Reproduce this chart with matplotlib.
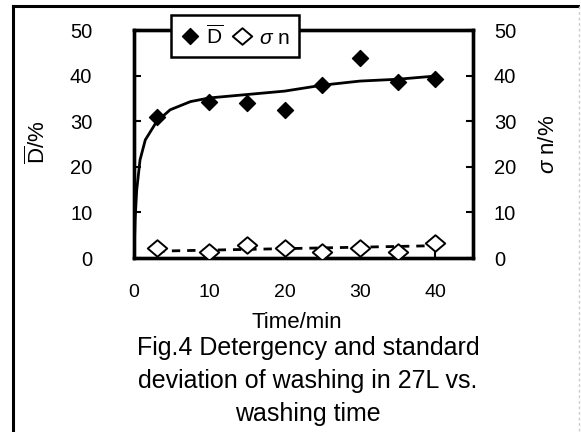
import matplotlib
matplotlib.use("Agg")
import matplotlib.pyplot as plt
from matplotlib.lines import Line2D
from matplotlib.path import Path

plt.rcParams['font.family'] = ['Liberation Sans', 'DejaVu Sans']
plt.rcParams['mathtext.fontset'] = 'custom'
plt.rcParams['mathtext.rm'] = 'Liberation Sans'
plt.rcParams['mathtext.it'] = 'Liberation Sans:italic'

# measured points
time_min = [3, 10, 15, 20, 25, 30, 35, 40]
detergency = [30.9, 34.2, 34.1, 32.5, 38.0, 43.9, 38.5, 39.2]
sigma_n = [2.1, 1.4, 2.8, 2.1, 1.4, 2.1, 1.4, 3.2]

# trend lines
fit_time = [0, 0.15, 0.36, 0.8, 1.5, 3, 4.8, 7.5, 10, 14, 20, 25, 30, 35, 40]
fit_det = [0, 8.5, 14.9, 21.5, 25.9, 29.9, 32.5, 34.3, 35.1, 35.7, 36.6, 37.9, 38.8, 39.2, 39.9]
sigma_fit_time = [3, 40]
sigma_fit = [1.5, 2.7]

x_ticks = [0, 10, 20, 30, 40]
y_ticks = [0, 10, 20, 30, 40, 50]

W, H = 581, 432


def fx(px):
    return px / W


def fy(py):
    return 1 - py / H


diamond = Path([(-1, 0), (0, 1), (1, 0), (0, -1), (-1, 0)],
               [Path.MOVETO, Path.LINETO, Path.LINETO, Path.LINETO, Path.CLOSEPOLY])
flat_diamond = Path([(-1, 0), (0, 0.85), (1, 0), (0, -0.85), (-1, 0)],
                    [Path.MOVETO, Path.LINETO, Path.LINETO, Path.LINETO, Path.CLOSEPOLY])

fig = plt.figure(figsize=(5.81, 4.32), dpi=100)
fig.patch.set_facecolor('white')
ax = fig.add_axes([fx(134), fy(258), fx(473) - fx(134), fy(30) - fy(258)])
ax2 = ax.twinx()

ax.plot(fit_time, fit_det, color='black', lw=2.0, zorder=3)
ax.plot(time_min, detergency, ls='none', marker=diamond, ms=11.5,
        mfc='black', mec='black', zorder=4)
ax2.plot(sigma_fit_time, sigma_fit, color='black', lw=2.0,
         ls=(0, (3, 2.5)), zorder=3)
ax2.plot(time_min, sigma_n, ls='none', marker=flat_diamond, ms=14,
         mfc='white', mec='black', mew=1.4, zorder=4)

ax.set_xlim(0, 45)
ax.set_ylim(0, 50)
ax2.set_ylim(0, 50)
ax.set_xticks(x_ticks)
ax.set_yticks(y_ticks)
ax2.set_yticks(y_ticks)

for a in (ax, ax2):
    for s in a.spines.values():
        s.set_linewidth(2.4)
ax.tick_params(axis='x', direction='in', length=5, width=1.5,
               labelsize=14, pad=19)
ax.tick_params(axis='y', direction='in', length=5, width=1.5,
               labelsize=14.5, pad=30)
ax2.tick_params(axis='y', direction='in', length=5, width=1.5,
                labelsize=14.5, pad=15)

fig.text(fx(297), fy(322), 'Time/min', ha='center', va='center', fontsize=16)
fig.text(fx(38), fy(142), '$\\overline{\\mathrm{D}}$/%', rotation=90,
         ha='center', va='center', fontsize=16)
fig.text(fx(549), fy(144), '$\\sigma$ n/%', rotation=90,
         ha='center', va='center', fontsize=16)

caption = ['Fig.4 Detergency and standard',
           'deviation of washing in 27L vs.',
           'washing time']
for line, py in zip(caption, [348, 381, 414]):
    fig.text(fx(308), fy(py), line, ha='center', va='center', fontsize=18)

handles = [Line2D([], [], ls='none', marker=diamond, ms=11.5, mfc='black', mec='black'),
           Line2D([], [], ls='none', marker=flat_diamond, ms=14, mfc='white',
                  mec='black', mew=1.4)]
leg = fig.legend(handles, ['$\\overline{\\mathrm{D}}$', '$\\sigma$ n'], ncol=2,
                 loc='center', bbox_to_anchor=(fx(235), fy(36)),
                 fontsize=15, frameon=True, fancybox=False, framealpha=1,
                 edgecolor='black', handlelength=0.9, handletextpad=0.35,
                 columnspacing=0.45, borderpad=0.45, borderaxespad=0)
leg.get_frame().set_linewidth(1.8)

# outer frame of the figure panel
fig.add_artist(Line2D([fx(13), fx(13)], [fy(6), 0], color='black', lw=2.2))
fig.add_artist(Line2D([fx(13), fx(578)], [fy(6), fy(6)], color='black', lw=2.2))
fig.add_artist(Line2D([fx(579), fx(579)], [fy(6), 0], color='#cccccc', lw=1,
                      ls=(0, (2, 2))))

fig.savefig('out.png', dpi=100)
